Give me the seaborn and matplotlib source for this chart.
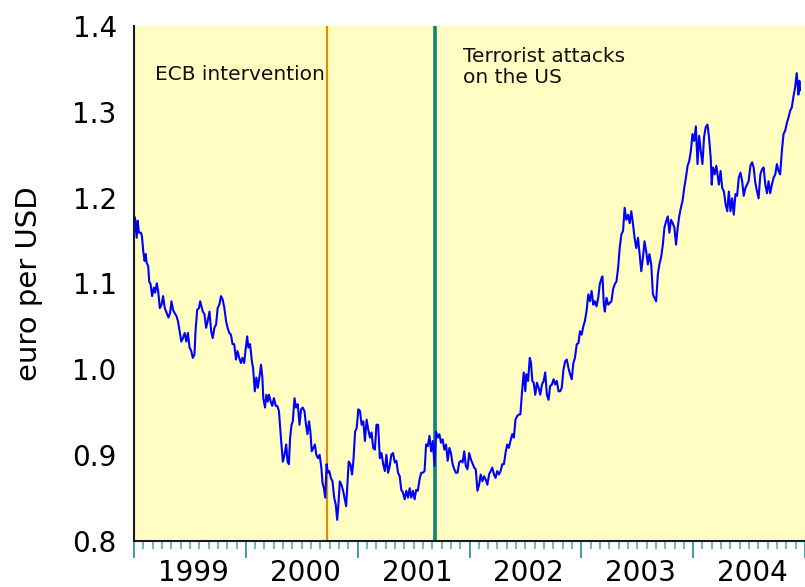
import matplotlib
matplotlib.use("Agg")
import matplotlib.pyplot as plt
import seaborn as sns
import numpy as np
import pandas as pd

# ---- data (decimal year, rate) ----
years = [
    1999.000, 1999.009, 1999.024, 1999.033, 1999.044, 1999.062, 1999.071, 1999.083, 1999.095, 1999.104,
    1999.113, 1999.127, 1999.136, 1999.148, 1999.162, 1999.178, 1999.189, 1999.204, 1999.216, 1999.231,
    1999.246, 1999.260, 1999.275, 1999.293, 1999.308, 1999.322, 1999.335, 1999.349, 1999.364, 1999.379,
    1999.393, 1999.408, 1999.423, 1999.438, 1999.453, 1999.468, 1999.482, 1999.497, 1999.512, 1999.526,
    1999.541, 1999.550, 1999.565, 1999.580, 1999.592, 1999.604, 1999.615, 1999.630, 1999.645, 1999.659,
    1999.675, 1999.690, 1999.704, 1999.719, 1999.734, 1999.748, 1999.763, 1999.778, 1999.793, 1999.808,
    1999.823, 1999.837, 1999.852, 1999.867, 1999.881, 1999.896, 1999.912, 1999.926,
    1999.941, 1999.956, 1999.970, 1999.985, 2000.000, 2000.012, 2000.023, 2000.038, 2000.054, 2000.065,
    2000.080, 2000.094, 2000.107, 2000.121, 2000.136, 2000.148, 2000.156, 2000.172, 2000.183, 2000.196,
    2000.207, 2000.222, 2000.236, 2000.251, 2000.267, 2000.281, 2000.296, 2000.305, 2000.316, 2000.331,
    2000.346, 2000.361, 2000.373, 2000.385, 2000.396, 2000.409, 2000.420, 2000.435, 2000.449, 2000.464,
    2000.480, 2000.494, 2000.509, 2000.524, 2000.538, 2000.551, 2000.565, 2000.577, 2000.589, 2000.604,
    2000.618, 2000.630, 2000.645, 2000.660, 2000.675, 2000.686, 2000.698, 2000.710, 2000.722, 2000.733,
    2000.746, 2000.760, 2000.775, 2000.790, 2000.804, 2000.817, 2000.828, 2000.840, 2000.855, 2000.870,
    2000.882, 2000.897, 2000.908, 2000.920, 2000.935, 2000.950,
    2000.962, 2000.977, 2000.991, 2001.006, 2001.021, 2001.035, 2001.050, 2001.065, 2001.080, 2001.095,
    2001.110, 2001.124, 2001.139, 2001.154, 2001.168, 2001.183, 2001.198, 2001.213, 2001.228, 2001.243,
    2001.257, 2001.272, 2001.287, 2001.301, 2001.316, 2001.332, 2001.346, 2001.361, 2001.376, 2001.390,
    2001.405, 2001.420, 2001.435, 2001.450, 2001.465, 2001.479, 2001.494, 2001.509, 2001.523, 2001.538,
    2001.553, 2001.568, 2001.583, 2001.598, 2001.612, 2001.627, 2001.642, 2001.657, 2001.672, 2001.687,
    2001.701, 2001.716, 2001.731, 2001.745, 2001.760, 2001.775, 2001.790, 2001.805, 2001.820, 2001.834,
    2001.849, 2001.864, 2001.878, 2001.893, 2001.908, 2001.923, 2001.938, 2001.953, 2001.967,
    2001.982, 2001.997, 2002.011, 2002.027, 2002.042, 2002.056, 2002.071, 2002.086, 2002.100, 2002.115,
    2002.130, 2002.145, 2002.160, 2002.175, 2002.189, 2002.204, 2002.219, 2002.233, 2002.248, 2002.263,
    2002.278, 2002.293, 2002.308, 2002.322, 2002.337, 2002.352, 2002.366, 2002.382, 2002.397, 2002.411,
    2002.426, 2002.441, 2002.455, 2002.470, 2002.485, 2002.499, 2002.508, 2002.524, 2002.539, 2002.550,
    2002.562, 2002.574, 2002.588, 2002.603, 2002.618, 2002.633, 2002.648, 2002.663, 2002.677, 2002.692,
    2002.707, 2002.721, 2002.737, 2002.752, 2002.766, 2002.781, 2002.796, 2002.810, 2002.825, 2002.840,
    2002.855, 2002.870, 2002.885, 2002.899, 2002.914, 2002.929, 2002.943, 2002.959, 2002.974, 2002.988,
    2003.003, 2003.018, 2003.032,
    2003.047, 2003.062, 2003.077, 2003.092, 2003.107, 2003.121, 2003.136, 2003.151, 2003.165, 2003.181,
    2003.189, 2003.201, 2003.210, 2003.225, 2003.240, 2003.254, 2003.269, 2003.284, 2003.299, 2003.314,
    2003.329, 2003.343, 2003.358, 2003.373, 2003.387, 2003.402, 2003.418, 2003.432, 2003.447, 2003.462,
    2003.476, 2003.491, 2003.507, 2003.521, 2003.536, 2003.551, 2003.565, 2003.580, 2003.595, 2003.609,
    2003.625, 2003.640, 2003.654, 2003.669, 2003.684, 2003.698, 2003.713, 2003.729, 2003.743, 2003.758,
    2003.773, 2003.787, 2003.802, 2003.817, 2003.832, 2003.847, 2003.862, 2003.875, 2003.890, 2003.905,
    2003.920,
    2003.935, 2003.950, 2003.964, 2003.979, 2003.994, 2004.009, 2004.024, 2004.039, 2004.053, 2004.068,
    2004.083, 2004.097, 2004.112, 2004.128, 2004.142, 2004.157, 2004.166, 2004.177, 2004.192, 2004.207,
    2004.221, 2004.230, 2004.245, 2004.260, 2004.275, 2004.290, 2004.305, 2004.319, 2004.334, 2004.349,
    2004.363, 2004.378, 2004.393, 2004.408, 2004.423, 2004.438, 2004.452, 2004.467, 2004.482, 2004.496,
    2004.512, 2004.527, 2004.541, 2004.556, 2004.571, 2004.585, 2004.601, 2004.616, 2004.630, 2004.645,
    2004.660, 2004.674, 2004.689, 2004.704, 2004.719, 2004.734, 2004.749, 2004.763, 2004.778, 2004.793,
    2004.808, 2004.823, 2004.838, 2004.852, 2004.867, 2004.882, 2004.897, 2004.911, 2004.926, 2004.941,
    2004.950, 2004.956,
]

rates = [
    1.179, 1.176, 1.153, 1.173, 1.159, 1.159, 1.155, 1.137, 1.126, 1.134,
    1.124, 1.120, 1.102, 1.099, 1.085, 1.095, 1.089, 1.100, 1.091, 1.071,
    1.075, 1.085, 1.071, 1.065, 1.060, 1.065, 1.079, 1.069, 1.065, 1.062,
    1.056, 1.044, 1.032, 1.036, 1.042, 1.032, 1.042, 1.025, 1.021, 1.013,
    1.017, 1.044, 1.069, 1.071, 1.079, 1.073, 1.067, 1.064, 1.048, 1.056,
    1.067, 1.044, 1.036, 1.048, 1.052, 1.071, 1.075, 1.085, 1.081, 1.071,
    1.056, 1.048, 1.042, 1.040, 1.029, 1.029, 1.011, 1.021,
    1.013, 1.007, 1.013, 1.007, 1.025, 1.038, 1.025, 1.029, 1.009, 1.001,
    0.974, 0.990, 0.978, 0.990, 1.005, 0.990, 0.966, 0.955, 0.970, 0.962,
    0.970, 0.962, 0.957, 0.966, 0.957, 0.957, 0.951, 0.935, 0.916, 0.892,
    0.900, 0.912, 0.892, 0.889, 0.920, 0.935, 0.939, 0.966, 0.955, 0.959,
    0.935, 0.953, 0.955, 0.951, 0.935, 0.924, 0.939, 0.927, 0.904, 0.908,
    0.912, 0.900, 0.896, 0.900, 0.885, 0.867, 0.861, 0.850, 0.889, 0.879,
    0.881, 0.873, 0.869, 0.850, 0.842, 0.824, 0.842, 0.869, 0.865, 0.858,
    0.850, 0.840, 0.865, 0.892, 0.889, 0.877,
    0.893, 0.927, 0.931, 0.953, 0.951, 0.935, 0.939, 0.916, 0.941, 0.929,
    0.920, 0.926, 0.908, 0.906, 0.935, 0.935, 0.896, 0.902, 0.889, 0.881,
    0.900, 0.879, 0.887, 0.900, 0.902, 0.891, 0.893, 0.879, 0.875, 0.859,
    0.856, 0.848, 0.858, 0.850, 0.861, 0.850, 0.858, 0.848, 0.859, 0.858,
    0.871, 0.879, 0.879, 0.881, 0.912, 0.910, 0.922, 0.904, 0.916, 0.887,
    0.927, 0.920, 0.924, 0.914, 0.918, 0.906, 0.912, 0.893, 0.908, 0.902,
    0.889, 0.883, 0.879, 0.879, 0.891, 0.893, 0.891, 0.904, 0.887,
    0.883, 0.902, 0.895, 0.890, 0.885, 0.883, 0.858, 0.865, 0.877, 0.869,
    0.875, 0.871, 0.865, 0.877, 0.881, 0.885, 0.877, 0.873, 0.881, 0.877,
    0.881, 0.889, 0.889, 0.902, 0.912, 0.908, 0.916, 0.924, 0.920, 0.941,
    0.945, 0.947, 0.947, 0.974, 0.996, 0.974, 0.994, 0.986, 1.013, 1.007,
    0.986, 0.984, 0.970, 0.984, 0.978, 0.970, 0.982, 0.986, 0.996, 0.970,
    0.964, 0.980, 0.982, 0.988, 0.982, 0.986, 0.974, 0.974, 0.978, 0.999,
    1.009, 1.011, 1.001, 0.994, 0.988, 1.007, 1.013, 1.029, 1.030, 1.044,
    1.040, 1.050, 1.056,
    1.068, 1.087, 1.079, 1.091, 1.075, 1.079, 1.073, 1.083, 1.099, 1.106,
    1.108, 1.075, 1.067, 1.083, 1.075, 1.077, 1.079, 1.093, 1.099, 1.102,
    1.118, 1.141, 1.157, 1.161, 1.188, 1.174, 1.180, 1.170, 1.184, 1.169,
    1.153, 1.141, 1.153, 1.134, 1.114, 1.130, 1.149, 1.137, 1.122, 1.134,
    1.122, 1.087, 1.083, 1.079, 1.110, 1.122, 1.130, 1.145, 1.165, 1.172,
    1.178, 1.159, 1.174, 1.170, 1.165, 1.145, 1.165, 1.178, 1.188, 1.196,
    1.211,
    1.223, 1.237, 1.242, 1.254, 1.274, 1.266, 1.283, 1.239, 1.272, 1.254,
    1.239, 1.270, 1.282, 1.285, 1.270, 1.246, 1.215, 1.235, 1.227, 1.237,
    1.223, 1.215, 1.231, 1.211, 1.207, 1.192, 1.184, 1.207, 1.184, 1.199,
    1.180, 1.204, 1.202, 1.223, 1.229, 1.219, 1.202, 1.211, 1.215, 1.219,
    1.237, 1.241, 1.235, 1.217, 1.207, 1.199, 1.227, 1.233, 1.235, 1.215,
    1.205, 1.219, 1.205, 1.215, 1.223, 1.227, 1.239, 1.231, 1.227, 1.254,
    1.274, 1.278, 1.287, 1.293, 1.301, 1.305, 1.318, 1.328, 1.345, 1.320,
    1.336, 1.325,
]

year_labels = ["1999", "2000", "2001", "2002", "2003", "2004"]
y_ticks = [0.8, 0.9, 1.0, 1.1, 1.2, 1.3, 1.4]
y_tick_labels = ["0.8", "0.9", "1.0", "1.1", "1.2", "1.3", "1.4"]
events_x = [2000.725, 2001.693]
events_text = ["ECB intervention", "Terrorist attacks\non the US"]
y_label = "euro per USD"

df = pd.DataFrame({"year": years, "rate": rates})

sns.set_style("white")
plt.rcParams["font.family"] = ["DejaVu Sans"]

fig = plt.figure(figsize=(8.05, 5.87), dpi=100)
ax = fig.add_axes([134 / 805, 46.5 / 587, 671 / 805, 514.5 / 587])
ax.set_facecolor("#FFFDC2")

sns.lineplot(data=df, x="year", y="rate", color="#0000FF", lw=1.5,
             estimator=None, ax=ax)

ax.axvline(events_x[0], color="#E08C00", lw=1.6, zorder=1)
ax.axvline(events_x[1], color="#0E8574", lw=2.6, zorder=1)

ax.text(1999.186, 1.355, events_text[0], fontsize=14.5, color="#111111",
        ha="left", va="top")
ax.text(2001.938, 1.375, events_text[1], fontsize=14.5, color="#111111",
        ha="left", va="top", linespacing=1.1)

ax.set_xlim(1999.0, 2004.955)
ax.set_ylim(0.8, 1.4)

# y axis
ax.set_yticks(y_ticks)
ax.set_yticklabels(y_tick_labels)
ax.tick_params(axis="y", which="major", direction="out", length=8,
               width=1.2, color="#1E9494", labelsize=20, pad=4.5,
               labelcolor="#000000")
ax.set_ylabel(y_label, fontsize=21, labelpad=21, color="#000000")
ax.set_xlabel("")

# x axis: monthly minor ticks, long year ticks, labels centred on each year
n_years = len(year_labels)
month_pos = [1999 + m / 12 for m in range(0, 12 * n_years + 1) if m % 12 != 0]
year_pos = [1999 + k for k in range(n_years + 1)]
mid_pos = [1999.53 + k for k in range(n_years)]

ax.set_xticks(year_pos)
ax.set_xticklabels([""] * len(year_pos))
ax.set_xticks(month_pos, minor=True)
ax.tick_params(axis="x", which="major", direction="out", length=12,
               width=1.3, color="#2E9A9A", bottom=True)
ax.tick_params(axis="x", which="minor", direction="out", length=5.5,
               width=1.2, color="#5AAFAF", bottom=True)

sec = ax.secondary_xaxis("bottom")
sec.set_xticks(mid_pos)
sec.set_xticklabels(year_labels)
sec.tick_params(axis="x", length=0, labelsize=20, pad=13,
                labelcolor="#000000")
sec.spines["bottom"].set_visible(False)

for side in ["top", "right"]:
    ax.spines[side].set_visible(False)
for side in ["left", "bottom"]:
    ax.spines[side].set_color("#1a1a1a")
    ax.spines[side].set_linewidth(1.5)
ax.grid(False)

fig.savefig("out.png", dpi=100)
